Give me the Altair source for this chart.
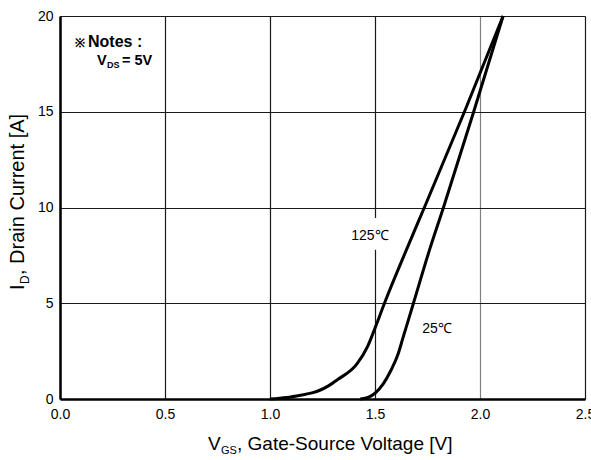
import altair as alt
import pandas as pd

# 125 C transfer curve (V_GS [V], I_D [A])
v_125 = [1.00, 1.08, 1.146, 1.20, 1.24, 1.28, 1.32, 1.415, 1.465, 1.50, 1.545, 1.65, 1.735, 1.926, 2.11]
i_125 = [0.0, 0.08, 0.2, 0.32, 0.47, 0.7, 1.0, 1.85, 2.75, 3.7, 5.0, 7.8, 10.0, 15.0, 20.0]
# 25 C transfer curve
v_25 = [1.43, 1.47, 1.50, 1.54, 1.576, 1.61, 1.632, 1.683, 1.76, 1.826, 1.97, 2.11]
i_25 = [0.0, 0.1, 0.3, 0.8, 1.5, 2.35, 3.15, 5.0, 7.8, 10.0, 15.0, 20.0]

x_ticks = [0.0, 0.5, 1.0, 1.5, 2.0, 2.5]
y_ticks = [0, 5, 10, 15, 20]

curve_labels = ["125℃", "25℃"]
label_v = [1.476, 1.795]
label_i = [8.51, 3.66]

FONT = "Liberation Sans"

df = pd.DataFrame({
    "V": v_125 + v_25,
    "I": i_125 + i_25,
    "T": ["125"] * len(v_125) + ["25"] * len(v_25),
})
lab = pd.DataFrame({"V": label_v, "I": label_i, "text": curve_labels})
mask = pd.DataFrame({"V": [1.38], "V2": [1.575], "I": [7.8], "I2": [9.45]})
one = pd.DataFrame({"k": [0]})

xs = alt.Scale(domain=[0, 2.5], nice=False, zero=False)
ys = alt.Scale(domain=[0, 20], nice=False)

x_axis = alt.Axis(
    values=x_ticks, format=".1f", title=None, ticks=False, labelPadding=8,
    labelFontSize=14, labelColor="#000", labelFont=FONT, labelFlush=False,
    labelOverlap=False, domainColor="#000", domainWidth=2.5,
    gridColor=alt.condition("datum.value === 2", alt.value("#808080"), alt.value("#1a1a1a")),
    gridWidth=1.2, gridOpacity=1,
)
y_axis = alt.Axis(
    values=y_ticks, format="d", title=None, ticks=False, labelPadding=7,
    labelFontSize=14, labelColor="#000", labelFont=FONT, labelFlush=False,
    labelOverlap=False, domainColor="#000", domainWidth=2.5,
    gridColor="#1a1a1a", gridWidth=1.2, gridOpacity=1,
)

lines = alt.Chart(df).mark_line(color="#000", strokeWidth=3, interpolate="monotone").encode(
    x=alt.X("V:Q", scale=xs, axis=x_axis),
    y=alt.Y("I:Q", scale=ys, axis=y_axis),
    detail="T:N",
)

bg = alt.Chart(mask).mark_rect(color="white").encode(
    x=alt.X("V:Q", scale=xs), x2="V2:Q",
    y=alt.Y("I:Q", scale=ys), y2="I2:Q",
)

labels = alt.Chart(lab).mark_text(font=FONT, fontSize=14, color="#000", align="center", baseline="middle").encode(
    x=alt.X("V:Q", scale=xs), y=alt.Y("I:Q", scale=ys), text="text:N",
)


def txt(s, x, y, size, bold=False, angle=0, font=FONT):
    return alt.Chart(one).mark_text(
        font=font, fontSize=size, fontWeight="bold" if bold else "normal",
        color="#000", align="left", baseline="alphabetic", angle=angle,
    ).encode(x=alt.value(x), y=alt.value(y), text=alt.value(s))


notes = [
    txt("※", 15, 31, 12, bold=True),
    txt("Notes :", 28, 31, 16, bold=True),
    txt("V", 37, 49, 14.5, bold=True),
    txt("DS", 47, 52, 9, bold=True),
    txt("= 5V", 62, 49, 14.5, bold=True),
]

# x-axis title: V_GS, Gate-Source Voltage [V]
xtitle = [
    txt("V", 148, 434, 19),
    txt("GS", 161, 438, 11),
    txt(", Gate-Source Voltage [V]", 177, 434, 19),
]
# y-axis title: I_D, Drain Current [A] (rotated)
ytitle = [
    txt("I", -36, 274, 20, angle=270),
    txt("D", -31, 268, 12, angle=270),
    txt(", Drain Current [A]", -36, 259, 20, angle=270),
]

chart = alt.layer(bg, lines, labels, *notes, *xtitle, *ytitle).properties(
    width=525, height=383,
    autosize=alt.AutoSizeParams(type="none"),
    padding={"left": 60, "top": 16, "right": 6, "bottom": 61},
    background="white",
).configure_view(
    stroke="#505050", strokeWidth=2.5,
).configure(font=FONT)

chart.save("out.html", embed_options={"renderer": "svg", "actions": False})
